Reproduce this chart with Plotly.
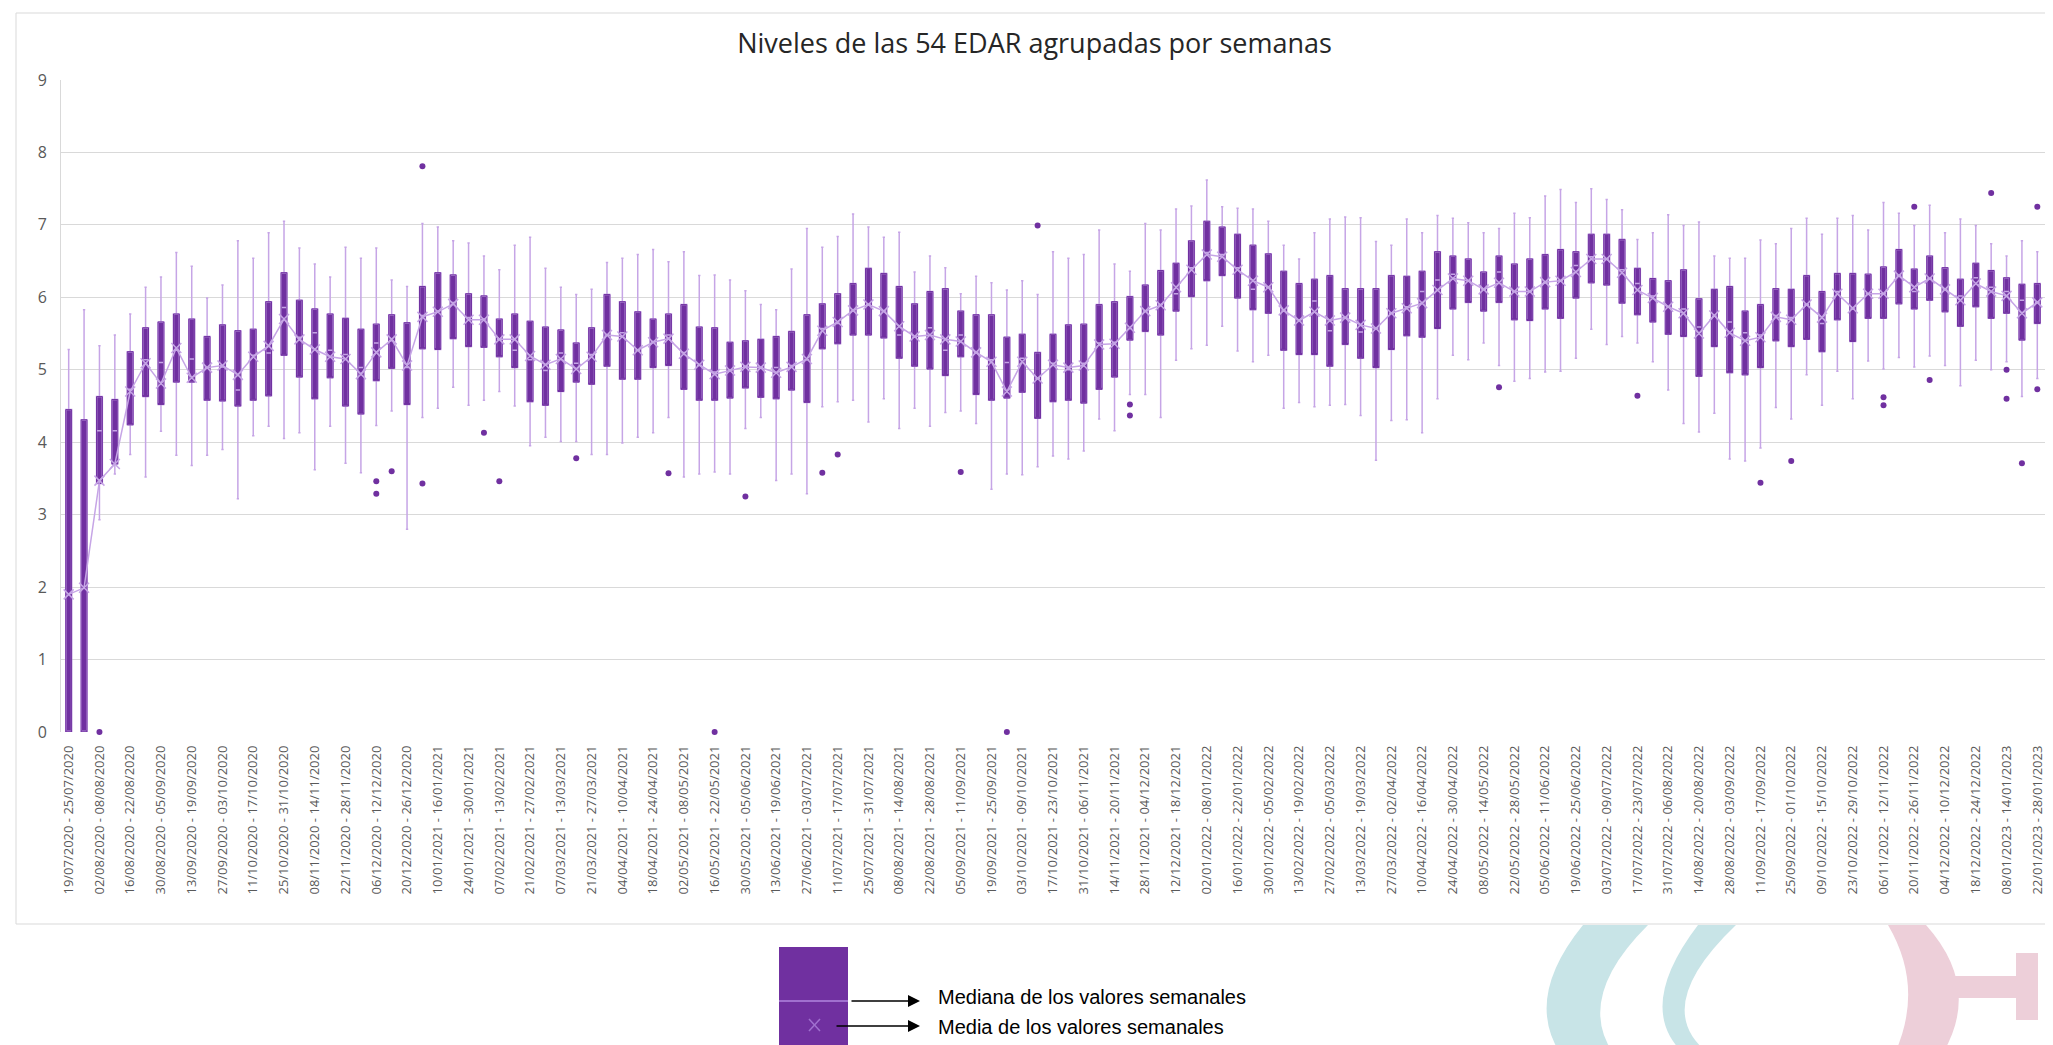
import datetime as dt
import plotly.graph_objects as go

# ---------------- data ----------------
tick_labels = [
    "19/07/2020 - 25/07/2020", "02/08/2020 - 08/08/2020", "16/08/2020 - 22/08/2020",
    "30/08/2020 - 05/09/2020", "13/09/2020 - 19/09/2020", "27/09/2020 - 03/10/2020",
    "11/10/2020 - 17/10/2020", "25/10/2020 - 31/10/2020", "08/11/2020 - 14/11/2020",
    "22/11/2020 - 28/11/2020", "06/12/2020 - 12/12/2020", "20/12/2020 - 26/12/2020",
    "10/01/2021 - 16/01/2021", "24/01/2021 - 30/01/2021", "07/02/2021 - 13/02/2021",
    "21/02/2021 - 27/02/2021", "07/03/2021 - 13/03/2021", "21/03/2021 - 27/03/2021",
    "04/04/2021 - 10/04/2021", "18/04/2021 - 24/04/2021", "02/05/2021 - 08/05/2021",
    "16/05/2021 - 22/05/2021", "30/05/2021 - 05/06/2021", "13/06/2021 - 19/06/2021",
    "27/06/2021 - 03/07/2021", "11/07/2021 - 17/07/2021", "25/07/2021 - 31/07/2021",
    "08/08/2021 - 14/08/2021", "22/08/2021 - 28/08/2021", "05/09/2021 - 11/09/2021",
    "19/09/2021 - 25/09/2021", "03/10/2021 - 09/10/2021", "17/10/2021 - 23/10/2021",
    "31/10/2021 - 06/11/2021", "14/11/2021 - 20/11/2021", "28/11/2021 - 04/12/2021",
    "12/12/2021 - 18/12/2021", "02/01/2022 - 08/01/2022", "16/01/2022 - 22/01/2022",
    "30/01/2022 - 05/02/2022", "13/02/2022 - 19/02/2022", "27/02/2022 - 05/03/2022",
    "13/03/2022 - 19/03/2022", "27/03/2022 - 02/04/2022", "10/04/2022 - 16/04/2022",
    "24/04/2022 - 30/04/2022", "08/05/2022 - 14/05/2022", "22/05/2022 - 28/05/2022",
    "05/06/2022 - 11/06/2022", "19/06/2022 - 25/06/2022", "03/07/2022 - 09/07/2022",
    "17/07/2022 - 23/07/2022", "31/07/2022 - 06/08/2022", "14/08/2022 - 20/08/2022",
    "28/08/2022 - 03/09/2022", "11/09/2022 - 17/09/2022", "25/09/2022 - 01/10/2022",
    "09/10/2022 - 15/10/2022", "23/10/2022 - 29/10/2022", "06/11/2022 - 12/11/2022",
    "20/11/2022 - 26/11/2022", "04/12/2022 - 10/12/2022", "18/12/2022 - 24/12/2022",
    "08/01/2023 - 14/01/2023", "22/01/2023 - 28/01/2023",
]

upper = [5.28, 5.83, 5.33, 5.48, 5.77, 6.14, 6.28, 6.62, 6.43, 5.99, 6.17, 6.78, 6.54, 6.89, 7.05, 6.68,
         6.46, 6.28, 6.69, 6.54, 6.68, 6.24, 6.15, 7.02, 6.97, 6.78, 6.75, 6.57, 6.38, 6.72, 6.83, 6.40,
         6.14, 6.04, 6.11, 6.48, 6.54, 6.59, 6.66, 6.49, 6.63, 6.30, 6.31, 6.24, 6.09, 5.90, 5.83, 6.39,
         6.95, 6.69, 6.84, 7.15, 6.97, 6.83, 6.90, 6.35, 6.57, 6.41, 6.05, 6.29, 6.20, 6.10, 6.23, 6.04,
         6.63, 6.54, 6.59, 6.93, 6.46, 6.36, 7.02, 6.93, 7.22, 7.26, 7.62, 7.25, 7.23, 7.22, 7.05, 6.72,
         6.53, 6.89, 7.08, 7.11, 7.10, 6.77, 6.72, 7.08, 6.89, 7.13, 7.09, 7.03, 6.89, 6.95, 7.16, 7.10,
         7.40, 7.49, 7.31, 7.50, 7.35, 7.21, 6.80, 6.89, 7.14, 6.99, 7.04, 6.57, 6.54, 6.54, 6.79, 6.74,
         6.95, 7.09, 6.87, 7.09, 7.13, 6.93, 7.31, 7.16, 6.99, 7.27, 6.89, 7.08, 6.99, 6.74, 6.57, 6.78,
         6.63]
q3 = [4.45, 4.31, 4.63, 4.59, 5.25, 5.58, 5.66, 5.77, 5.70, 5.46, 5.62, 5.54, 5.56, 5.94, 6.34, 5.96,
      5.84, 5.77, 5.71, 5.56, 5.63, 5.76, 5.65, 6.15, 6.34, 6.31, 6.05, 6.02, 5.70, 5.77, 5.67, 5.59,
      5.55, 5.37, 5.58, 6.04, 5.94, 5.80, 5.70, 5.77, 5.90, 5.59, 5.58, 5.38, 5.40, 5.42, 5.46, 5.53,
      5.76, 5.91, 6.05, 6.19, 6.40, 6.33, 6.15, 5.91, 6.08, 6.12, 5.81, 5.76, 5.76, 5.45, 5.49, 5.24,
      5.49, 5.62, 5.63, 5.90, 5.94, 6.01, 6.17, 6.37, 6.47, 6.78, 7.05, 6.97, 6.87, 6.72, 6.60, 6.36,
      6.19, 6.25, 6.30, 6.12, 6.12, 6.12, 6.30, 6.29, 6.36, 6.63, 6.57, 6.53, 6.35, 6.57, 6.46, 6.53,
      6.59, 6.66, 6.63, 6.87, 6.87, 6.80, 6.40, 6.26, 6.23, 6.38, 5.98, 6.11, 6.15, 5.81, 5.90, 6.12,
      6.11, 6.30, 6.08, 6.33, 6.33, 6.32, 6.42, 6.66, 6.39, 6.57, 6.41, 6.25, 6.47, 6.37, 6.27, 6.18,
      6.19]
median = [0.00, 0.00, 4.16, 4.16, 4.73, 5.14, 5.10, 5.27, 5.15, 5.03, 5.04, 4.72, 5.20, 5.23, 5.86, 5.45,
          5.51, 5.27, 5.21, 5.03, 5.37, 5.40, 5.03, 5.75, 5.81, 5.93, 5.72, 5.70, 5.42, 5.27, 5.14, 4.99,
          5.23, 5.09, 5.21, 5.48, 5.51, 5.27, 5.39, 5.48, 5.24, 5.06, 4.97, 5.00, 5.05, 5.03, 5.03, 5.06,
          5.14, 5.57, 5.64, 5.81, 5.90, 5.81, 5.48, 5.45, 5.58, 5.27, 5.48, 5.24, 5.14, 5.10, 5.16, 4.88,
          5.09, 5.00, 5.09, 5.37, 5.38, 5.57, 5.81, 5.90, 6.05, 6.41, 6.62, 6.59, 6.41, 6.11, 6.14, 5.81,
          5.69, 5.95, 5.54, 5.72, 5.52, 5.57, 5.78, 5.87, 6.08, 6.24, 6.32, 6.23, 6.11, 6.35, 6.08, 6.08,
          6.20, 6.23, 6.44, 6.56, 6.53, 6.38, 6.19, 6.02, 5.87, 5.84, 5.59, 5.74, 5.66, 5.51, 5.48, 5.75,
          5.72, 5.90, 5.64, 6.08, 5.84, 6.05, 6.05, 6.30, 6.08, 6.26, 6.11, 6.02, 6.27, 6.14, 6.08, 5.96,
          5.93]
q1 = [0.00, 0.00, 3.43, 3.70, 4.24, 4.63, 4.52, 4.83, 4.83, 4.58, 4.57, 4.50, 4.58, 4.64, 5.20, 4.90,
      4.60, 4.89, 4.50, 4.39, 4.85, 5.02, 4.52, 5.29, 5.28, 5.43, 5.32, 5.31, 5.18, 5.03, 4.56, 4.51,
      4.70, 4.83, 4.80, 5.05, 4.87, 4.87, 5.03, 5.06, 4.73, 4.58, 4.58, 4.61, 4.75, 4.62, 4.60, 4.72,
      4.55, 5.29, 5.36, 5.48, 5.48, 5.44, 5.16, 5.05, 5.01, 4.92, 5.18, 4.66, 4.58, 4.61, 4.69, 4.33,
      4.56, 4.58, 4.54, 4.73, 4.90, 5.41, 5.53, 5.48, 5.81, 6.01, 6.23, 6.30, 5.99, 5.83, 5.78, 5.27,
      5.21, 5.21, 5.05, 5.35, 5.16, 5.03, 5.28, 5.47, 5.45, 5.57, 5.84, 5.93, 5.81, 5.93, 5.69, 5.68,
      5.84, 5.71, 5.99, 6.20, 6.17, 5.92, 5.76, 5.66, 5.49, 5.46, 4.91, 5.32, 4.96, 4.93, 5.03, 5.40,
      5.32, 5.42, 5.25, 5.69, 5.39, 5.71, 5.71, 5.91, 5.84, 5.96, 5.80, 5.60, 5.87, 5.71, 5.78, 5.41,
      5.64]
lower = [0.00, 0.00, 2.93, 3.56, 3.83, 3.52, 4.15, 3.82, 3.68, 3.82, 3.90, 3.22, 4.09, 4.22, 4.05, 4.13,
         3.62, 4.22, 3.71, 3.58, 4.23, 4.43, 2.80, 4.34, 4.47, 4.76, 4.51, 4.58, 4.70, 4.50, 3.95, 4.07,
         4.01, 4.01, 3.83, 3.83, 3.99, 4.07, 4.13, 4.34, 3.52, 3.56, 3.59, 3.56, 4.19, 4.34, 3.47, 3.56,
         3.29, 4.49, 4.56, 4.58, 4.28, 4.60, 4.19, 4.47, 4.22, 4.41, 4.43, 4.26, 3.35, 3.56, 3.55, 3.66,
         3.81, 3.77, 3.88, 4.32, 4.16, 4.66, 4.66, 4.34, 5.13, 5.29, 5.34, 5.60, 5.26, 5.11, 5.20, 4.47,
         4.55, 4.49, 4.51, 4.52, 4.37, 3.75, 4.30, 4.31, 4.13, 4.60, 5.20, 5.14, 5.37, 5.06, 4.84, 4.88,
         4.97, 4.98, 5.16, 5.56, 5.35, 5.46, 5.37, 5.11, 4.72, 4.26, 4.14, 4.40, 3.77, 3.74, 3.92, 4.48,
         4.32, 4.93, 4.51, 4.98, 4.60, 5.12, 5.01, 5.17, 5.04, 5.19, 5.06, 4.78, 5.13, 5.00, 5.11, 4.63,
         4.88]
mean = [1.90, 1.99, 3.47, 3.70, 4.70, 5.09, 4.81, 5.30, 4.89, 5.03, 5.06, 4.93, 5.18, 5.33, 5.70, 5.42,
        5.28, 5.18, 5.15, 4.94, 5.24, 5.42, 5.06, 5.73, 5.80, 5.91, 5.69, 5.69, 5.42, 5.42, 5.19, 5.07,
        5.15, 5.01, 5.18, 5.48, 5.46, 5.27, 5.38, 5.43, 5.22, 5.07, 4.94, 4.99, 5.04, 5.03, 4.96, 5.04,
        5.15, 5.54, 5.66, 5.82, 5.90, 5.81, 5.60, 5.46, 5.48, 5.42, 5.39, 5.24, 5.11, 4.70, 5.11, 4.88,
        5.07, 5.03, 5.06, 5.35, 5.36, 5.58, 5.81, 5.89, 6.14, 6.38, 6.59, 6.56, 6.38, 6.23, 6.14, 5.82,
        5.68, 5.80, 5.68, 5.72, 5.62, 5.57, 5.78, 5.85, 5.92, 6.10, 6.26, 6.23, 6.11, 6.20, 6.08, 6.08,
        6.21, 6.23, 6.35, 6.53, 6.53, 6.34, 6.10, 5.99, 5.87, 5.78, 5.50, 5.75, 5.51, 5.40, 5.45, 5.73,
        5.69, 5.90, 5.72, 6.05, 5.85, 6.05, 6.05, 6.30, 6.14, 6.26, 6.11, 5.96, 6.19, 6.08, 6.02, 5.78,
        5.93]

# outliers: (index of week, value)
outlier_week = [2, 20, 20, 21, 23, 23, 27, 28, 33, 39, 42, 44, 49, 50, 58, 61, 63, 69, 69,
                93, 102, 110, 112, 118, 118, 120, 121, 125, 126, 126, 127, 128, 128]
outlier_val = [0.00, 3.46, 3.29, 3.60, 7.81, 3.43, 4.13, 3.46, 3.78, 3.57, 0.00, 3.25, 3.58, 3.83,
               3.59, 0.00, 6.99, 4.52, 4.37, 4.76, 4.64, 3.44, 3.74, 4.62, 4.51, 7.25, 4.86, 7.44,
               5.00, 4.60, 3.71, 7.25, 4.73]

title_text = "Niveles de las 54 EDAR agrupadas por semanas"
legend_median = "Mediana de los valores semanales"
legend_mean = "Media de los valores semanales"

# ---------------- categories (every week, only every other is labelled) -------------
def week_name(start):
    end = start + dt.timedelta(days=6)
    return f"{start:%d/%m/%Y} - {end:%d/%m/%Y}"

weeks = []
for i, lab in enumerate(tick_labels):
    weeks.append(lab)
    if i < len(tick_labels) - 1:
        d = dt.datetime.strptime(lab.split(" - ")[0], "%d/%m/%Y") + dt.timedelta(days=7)
        weeks.append(week_name(d))

# ---------------- style ----------------
PURPLE = "#7030A0"
LAV = "#C6A5E6"
W, H = 2053, 1045
L, R, T, B = 53, 16, 72, 321
PW, PH = W - L - R, H - T - B

def px(x):
    return (x - L) / PW

def py(y):
    return (H - B - y) / PH

fig = go.Figure()

fig.add_trace(go.Box(
    x=weeks, q1=q1, median=median, q3=q3, lowerfence=lower, upperfence=upper,
    boxpoints=False, fillcolor=PURPLE, line=dict(color=LAV, width=1.5),
    whiskerwidth=0.4, showlegend=False, hoverinfo="skip",
))
# purple outline over the box body (no whiskers)
fig.add_trace(go.Box(
    x=weeks, q1=q1, median=q1, q3=q3, lowerfence=q1, upperfence=q3,
    boxpoints=False, fillcolor="rgba(0,0,0,0)", line=dict(color=PURPLE, width=1),
    whiskerwidth=0, showlegend=False, hoverinfo="skip",
))
fig.add_trace(go.Scatter(
    x=weeks, y=mean, mode="lines+markers",
    line=dict(color=LAV, width=1.5),
    marker=dict(symbol="x-thin-open", size=10, line=dict(color=LAV, width=1.5)),
    showlegend=False,
))
fig.add_trace(go.Scatter(
    x=[weeks[i] for i in outlier_week], y=outlier_val, mode="markers",
    marker=dict(symbol="circle", size=6, color=PURPLE),
    showlegend=False, cliponaxis=False,
))

shapes = []
# chart area border
shapes.append(dict(type="rect", xref="paper", yref="paper",
                   x0=px(8), x1=px(2048), y0=py(916), y1=py(5),
                   line=dict(color="#D9D9D9", width=1), fillcolor="rgba(0,0,0,0)", layer="below"))

# decorative logo (bottom right)
def crescent(outer, inner):
    def q(p0, m, p2):
        return (2 * m[0] - (p0[0] + p2[0]) / 2, 2 * m[1] - (p0[1] + p2[1]) / 2)
    o0, om, o2 = outer
    i0, im, i2 = inner
    co = q(o0, om, o2)
    ci = q(i2, im, i0)
    pts = lambda p: f"{px(p[0]):.5f},{py(p[1]):.5f}"
    return (f"M {pts(o0)} Q {pts(co)} {pts(o2)} L {pts(i2)} Q {pts(ci)} {pts(i0)} Z")

TEAL = "#C8E4E7"
PINK = "#EDCFD9"
shapes.append(dict(type="path", xref="paper", yref="paper", layer="below",
                   path=crescent([(1575, 917), (1540, 985), (1552, 1045)],
                                 [(1640, 917), (1595, 985), (1605, 1045)]),
                   fillcolor=TEAL, line=dict(width=0)))
shapes.append(dict(type="path", xref="paper", yref="paper", layer="below",
                   path=crescent([(1690, 917), (1655, 990), (1675, 1045)],
                                 [(1728, 917), (1678, 990), (1700, 1045)]),
                   fillcolor=TEAL, line=dict(width=0)))
shapes.append(dict(type="path", xref="paper", yref="paper", layer="below",
                   path=crescent([(1918, 917), (1950, 980), (1935, 1045)],
                                 [(1880, 917), (1900, 980), (1887, 1045)]),
                   fillcolor=PINK, line=dict(width=0)))
shapes.append(dict(type="rect", xref="paper", yref="paper", layer="below",
                   x0=px(1945), x1=px(2012), y0=py(990), y1=py(968),
                   fillcolor=PINK, line=dict(width=0)))
shapes.append(dict(type="rect", xref="paper", yref="paper", layer="below",
                   x0=px(2008), x1=px(2030), y0=py(1012), y1=py(945),
                   fillcolor=PINK, line=dict(width=0)))

# legend explanation graphic
shapes.append(dict(type="rect", xref="paper", yref="paper",
                   x0=px(771), x1=px(840), y0=py(1046), y1=py(939),
                   fillcolor=PURPLE, line=dict(width=0)))
shapes.append(dict(type="line", xref="paper", yref="paper",
                   x0=px(771), x1=px(840), y0=py(993), y1=py(993),
                   line=dict(color="#A070CF", width=2)))
shapes.append(dict(type="line", xref="paper", yref="paper",
                   x0=px(801), x1=px(812), y0=py(1011), y1=py(1023),
                   line=dict(color="#A070CF", width=1.5)))
shapes.append(dict(type="line", xref="paper", yref="paper",
                   x0=px(801), x1=px(812), y0=py(1023), y1=py(1011),
                   line=dict(color="#A070CF", width=1.5)))

annotations = [
    dict(xref="paper", yref="paper", x=px(912), y=py(993), ax=-70, ay=0,
         axref="pixel", ayref="pixel", text="", showarrow=True,
         arrowhead=2, arrowsize=1.6, arrowwidth=1.5, arrowcolor="black"),
    dict(xref="paper", yref="paper", x=px(912), y=py(1018), ax=-85, ay=0,
         axref="pixel", ayref="pixel", text="", showarrow=True,
         arrowhead=2, arrowsize=1.6, arrowwidth=1.5, arrowcolor="black"),
    dict(xref="paper", yref="paper", x=px(928), y=py(989), xanchor="left", yanchor="middle",
         text=legend_median, showarrow=False,
         font=dict(family="Liberation Sans, Arial", size=20, color="black")),
    dict(xref="paper", yref="paper", x=px(928), y=py(1019), xanchor="left", yanchor="middle",
         text=legend_mean, showarrow=False,
         font=dict(family="Liberation Sans, Arial", size=20, color="black")),
]

fig.update_layout(
    width=W, height=H,
    margin=dict(l=L, r=R, t=T, b=B, pad=0),
    paper_bgcolor="white", plot_bgcolor="white",
    boxmode="overlay", boxgap=0.46,
    title=dict(text=title_text, x=0.5, xanchor="center", y=1 - 36 / H, yanchor="middle",
               yref="container",
               font=dict(family="Open Sans, sans-serif", size=27, color="#262626")),
    shapes=shapes, annotations=annotations,
    font=dict(family="Open Sans, sans-serif", color="#595959"),
)
fig.update_xaxes(
    type="category", categoryorder="array", categoryarray=weeks,
    range=[-0.5, len(weeks) - 0.5],
    tickmode="array", tickvals=weeks[::2], ticktext=tick_labels,
    tickangle=-90, tickfont=dict(size=13, color="#595959"),
    showgrid=False, showline=False, zeroline=False, ticks="", ticklabelstandoff=10,
)
fig.update_yaxes(
    range=[0, 9], dtick=1, tick0=0,
    showgrid=True, gridcolor="#D9D9D9", gridwidth=1,
    zeroline=False, showline=True, linecolor="#D9D9D9", linewidth=1, ticks="",
    tickfont=dict(size=16, color="#595959"), ticklabelstandoff=10,
)

fig.write_html("out.html")
